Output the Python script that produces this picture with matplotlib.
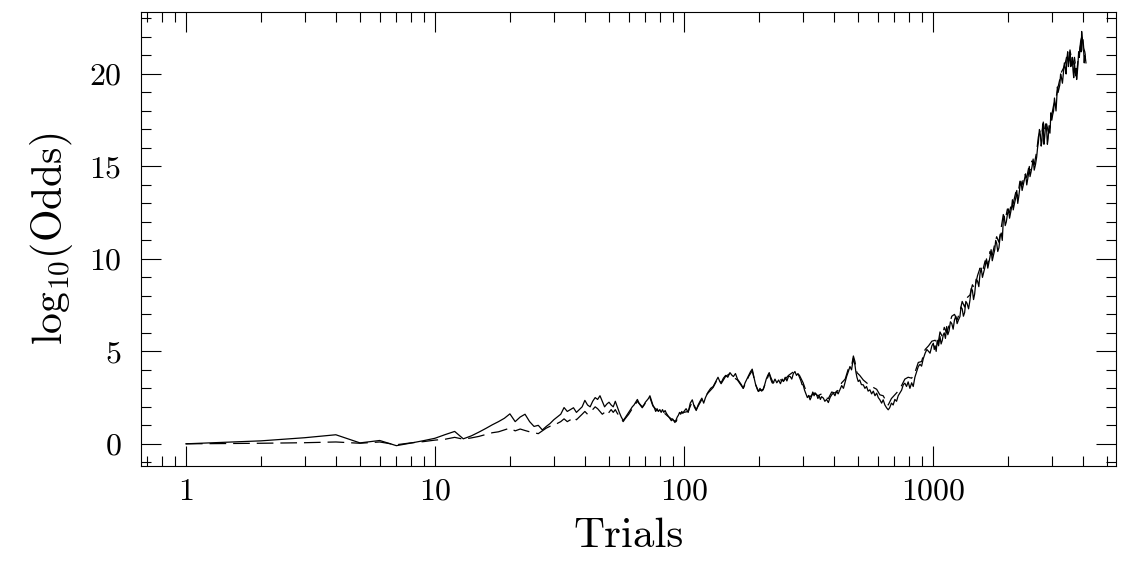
import numpy as np
import matplotlib
matplotlib.use("Agg")
import matplotlib.pyplot as plt
from matplotlib.ticker import LogLocator, FixedLocator, MultipleLocator, NullFormatter

plt.rcParams['font.family'] = ['cmr10', 'DejaVu Sans']
plt.rcParams['mathtext.fontset'] = 'cm'
plt.rcParams['axes.formatter.use_mathtext'] = True
plt.rcParams['lines.scale_dashes'] = False

# solid curve: trial number and log10 odds
trials_a = [1, 2, 3, 4, 5, 6, 7, 8, 9, 10, 11, 12, 13, 14, 15, 16, 17, 18, 19, 20,
            21, 22, 23, 24, 25, 26, 27, 28, 29, 30, 31, 32, 33, 34, 35, 36, 37, 38, 39, 40,
            41, 42, 43, 44, 45, 46, 47, 48, 49, 50, 51, 52, 53, 54, 55, 56, 57, 58, 59, 60,
            61, 62, 63, 64, 65, 66, 67, 68, 69, 70, 71, 72, 73, 74, 75, 76, 77, 78, 79, 80,
            81, 82, 83, 84, 85, 86, 87, 88, 89, 90, 91, 92, 93, 94, 95, 96, 97, 98, 99, 100,
            102, 104, 106, 108, 110, 112, 114, 116, 118, 120, 122, 125, 128, 131, 134, 137, 139,
            141, 144, 147, 150, 153, 156, 158, 161, 164, 167, 170, 173, 176, 179, 182, 185, 188,
            191, 194, 197, 199, 202, 205, 208, 211, 214, 217, 220, 223, 226, 228, 232, 236, 240,
            244, 248, 251, 255, 259, 263, 267, 271, 275, 279, 283, 287, 291, 295, 298, 301, 305,
            309, 313, 317, 321, 325, 329, 333, 337, 341, 345, 349, 353, 357, 363, 368, 374, 380,
            386, 392, 398, 404, 410, 416, 423, 430, 437, 444, 450, 457, 464, 471, 479, 483, 486,
            490, 495, 501, 508, 516, 525, 533, 541, 549, 558, 567, 576, 585, 594, 603, 612, 622,
            631, 641, 651, 661, 670, 681, 692, 703, 714, 725, 736, 748, 760, 771, 783, 795, 808,
            821, 833, 846, 860, 873, 887, 900, 914, 930, 945, 960, 973, 990,
            1003, 1012, 1020, 1030, 1040, 1053, 1067, 1078, 1090, 1100, 1110, 1122, 1135, 1147,
            1160, 1175, 1190, 1205, 1220, 1235, 1250, 1266, 1283, 1296, 1310, 1325, 1340, 1355,
            1370, 1390, 1408, 1425, 1440, 1455, 1470, 1490, 1510, 1528, 1545, 1562, 1580, 1600,
            1620, 1640, 1660, 1677, 1694, 1712, 1730, 1750, 1770, 1786, 1802, 1820, 1840, 1860,
            1880, 1898, 1916, 1933, 1950, 1970, 1990, 2010, 2030, 2050, 2070, 2085, 2100, 2125,
            2150, 2170, 2190, 2212, 2234, 2257, 2280, 2305, 2330, 2355, 2380, 2400, 2420, 2437,
            2453, 2476, 2500, 2525, 2550, 2580, 2608, 2630, 2650, 2675, 2700, 2720, 2740, 2757,
            2773, 2790, 2810, 2835, 2860, 2880, 2900, 2925, 2950, 2975, 3000, 3025, 3050, 3075,
            3100, 3120, 3139, 3160, 3180, 3205, 3230, 3255, 3280, 3310, 3337, 3370, 3400, 3425,
            3450, 3475, 3500, 3525, 3550, 3575, 3600, 3625, 3650, 3675, 3700, 3720, 3740, 3758,
            3775, 3800, 3820, 3845, 3870, 3895, 3920, 3940, 3954, 3970, 3990, 4010, 4030, 4050,
            4070, 4090, 4115]
odds_a = [0.0, 0.16, 0.33, 0.49, 0.05, 0.18, -0.1, 0.04, 0.17, 0.3, 0.5, 0.67, 0.27, 0.43, 0.63, 0.83, 1.03, 1.2, 1.38, 1.62,
          1.2, 1.45, 1.6, 1.2, 0.94, 1.0, 0.75, 0.94, 1.1, 1.3, 1.45, 1.6, 1.96, 1.75, 1.85, 1.95, 1.7, 1.85, 2.0, 2.35,
          2.1, 2.0, 2.3, 2.5, 2.4, 2.6, 2.3, 2.0, 2.15, 2.25, 2.1, 2.0, 2.3, 2.0, 1.7, 1.45, 1.26, 1.4, 1.55, 1.7,
          1.85, 2.0, 2.1, 2.25, 2.4, 2.2, 2.1, 2.0, 2.1, 2.25, 2.35, 2.45, 2.6, 2.35, 2.1, 1.95, 1.75, 1.9, 1.75, 1.85,
          1.7, 1.85, 1.7, 1.8, 1.65, 1.55, 1.45, 1.35, 1.25, 1.35, 1.25, 1.15, 1.3, 1.45, 1.55, 1.7, 1.6, 1.75, 1.65, 1.75,
          1.9, 1.7, 2.2, 2.38, 2.0, 1.8, 2.1, 2.3, 2.47, 2.2, 2.5, 2.8, 3.0, 3.1, 3.35, 3.6, 3.4,
          3.3, 3.55, 3.7, 3.6, 3.85, 3.7, 3.64, 3.8, 3.5, 3.35, 3.2, 3.0, 3.3, 3.5, 3.7, 3.9, 4.04,
          3.6, 3.2, 2.95, 2.83, 3.0, 2.85, 2.92, 3.2, 3.5, 3.7, 3.85, 3.5, 3.3, 3.28, 3.5, 3.3, 3.45,
          3.25, 3.5, 3.37, 3.6, 3.4, 3.65, 3.64, 3.5, 3.8, 3.91, 3.7, 3.8, 3.6, 3.4, 3.2, 3.19, 2.9,
          2.7, 2.5, 2.6, 2.38, 2.55, 2.8, 2.6, 2.75, 2.65, 2.45, 2.6, 2.4, 2.55, 2.47, 2.3, 2.4, 2.23,
          2.5, 2.65, 2.74, 2.6, 2.85, 2.7, 2.92, 3.15, 3.0, 3.35, 3.64, 3.9, 4.18, 4.0, 4.63, 4.4, 4.27,
          3.9, 3.6, 3.37, 3.45, 3.2, 3.19, 3.0, 3.1, 2.85, 2.92, 2.7, 2.85, 2.6, 2.74, 2.5, 2.38, 2.2,
          2.38, 2.1, 1.95, 1.84, 1.95, 2.2, 2.1, 2.4, 2.3, 2.6, 2.74, 2.9, 3.2, 3.28, 3.1, 3.35, 3.0,
          3.3, 3.1, 3.6, 3.9, 4.18, 4.3, 4.2, 4.6, 4.9, 5.1, 5.0, 4.9, 5.3,
          5.44, 5.1, 5.3, 5.0, 5.6, 5.3, 5.8, 5.4, 5.6, 5.9, 6.0, 5.7, 6.34, 5.9,
          6.1, 6.6, 6.5, 6.2, 6.7, 6.9, 6.5, 6.7, 6.88, 7.4, 7.3, 6.9, 7.1, 7.7,
          7.6, 7.3, 7.78, 8.4, 8.3, 7.8, 8.1, 8.9, 8.8, 8.5, 9.2, 9.5, 9.0, 9.3,
          9.6, 10.0, 9.5, 9.8, 10.1, 10.5, 9.9, 10.2, 10.5, 11.0, 10.85, 10.4, 10.6, 11.2,
          11.4, 11.0, 12.1, 12.3, 11.8, 12.0, 12.4, 12.7, 12.2, 12.5, 12.8, 13.2, 12.65, 13.0,
          13.3, 13.7, 13.0, 13.4, 13.9, 14.2, 13.7, 14.0, 14.3, 14.6, 14.0, 14.3, 14.6, 15.0,
          14.45, 14.7, 15.0, 15.4, 14.8, 15.1, 15.5, 16.0, 16.3, 17.0, 16.7, 16.1, 16.4, 17.3,
          17.15, 16.2, 16.6, 17.3, 17.0, 16.2, 16.5, 17.2, 16.8, 17.9, 17.5, 17.8, 18.0, 18.7,
          18.3, 18.0, 18.6, 19.3, 19.0, 19.2, 19.4, 20.0, 19.8, 19.5, 20.0, 20.6, 20.3, 20.0,
          20.8, 21.2, 20.4, 20.8, 21.1, 20.4, 20.5, 20.9, 20.2, 19.8, 20.6, 20.2, 19.9, 20.3,
          19.7, 20.1, 20.5, 21.2, 20.9, 21.4, 21.6, 21.2, 22.3, 22.0, 21.8, 21.3, 21.2, 20.6,
          21.0, 20.9, 20.6]

# dashed curve
trials_b = [1, 2, 3, 4, 5, 6, 7, 8, 9, 10, 11, 12, 13, 14, 15, 16, 17, 18, 19, 20,
            21, 22, 23, 24, 25, 26, 27, 28, 29, 30, 31, 32, 33, 34, 35, 36, 37, 38, 39, 40,
            41, 42, 43, 44, 45, 46, 47, 48, 49, 50, 51, 52, 53, 54, 55, 56, 57,
            58, 60, 62, 65, 68, 70, 73, 75, 78, 82, 86, 90, 93, 96, 100, 104, 108, 112, 118,
            125, 131, 137, 141, 147, 153, 158, 164, 173, 182, 188, 194, 199, 208, 220, 228, 240,
            251, 263, 279, 291, 301, 313, 321, 333, 345, 357, 368, 380, 392, 404, 416, 430, 444,
            457, 471, 479, 486, 495, 508, 525, 541, 558, 576, 594, 612, 631, 651, 661, 681, 703,
            725, 748, 771, 795, 821, 846, 873, 900, 930, 960, 990,
            1020, 1045, 1067, 1090, 1110, 1135, 1160, 1190, 1220, 1250, 1283, 1310, 1340, 1370,
            1408, 1440, 1470, 1510, 1545, 1580, 1620, 1660, 1694, 1730, 1770, 1802, 1840, 1880,
            1916, 1950, 1990, 2030, 2070, 2100, 2150, 2190, 2234, 2280, 2330, 2380, 2420, 2453,
            2500, 2550, 2608, 2650, 2700, 2740, 2773, 2810, 2860, 2900, 2950, 3000, 3050, 3100,
            3139, 3180, 3230, 3280, 3337, 3400, 3450, 3500, 3550, 3600, 3650, 3700, 3775, 3820,
            3870, 3920, 3954, 3990, 4030, 4070, 4115]
odds_b = [0.0, 0.03, 0.06, 0.1, 0.03, 0.1, -0.05, 0.05, 0.12, 0.2, 0.25, 0.35, 0.25, 0.32, 0.4, 0.5, 0.6, 0.65, 0.75, 0.85,
          0.7, 0.8, 0.72, 0.65, 0.6, 0.55, 0.7, 0.85, 0.95, 1.0, 1.1, 1.2, 1.35, 1.2, 1.3, 1.45, 1.3, 1.45, 1.6, 1.75,
          1.6, 1.7, 1.85, 2.0, 1.9, 1.75, 1.6, 1.7, 1.55, 1.7, 1.85, 1.7, 1.85, 1.65, 1.5, 1.35, 1.2,
          1.35, 1.6, 1.9, 2.3, 1.95, 2.2, 2.5, 2.05, 1.8, 1.75, 1.5, 1.3, 1.2, 1.65, 1.7, 1.75, 2.3, 1.85, 2.4,
          2.75, 3.05, 3.55, 3.25, 3.65, 3.8, 3.6, 3.45, 3.0, 3.65, 3.95, 3.2, 2.85, 2.95, 3.8, 3.3, 3.5,
          3.4, 3.7, 3.95, 3.7, 3.3, 2.65, 2.55, 2.75, 2.6, 2.7, 2.5, 2.45, 2.8, 2.75, 2.9, 3.3, 3.5,
          4.05, 4.2, 4.75, 4.45, 3.85, 3.7, 3.45, 3.3, 3.15, 3.05, 2.95, 2.65, 2.6, 2.25, 2.1, 2.45, 2.65,
          2.85, 3.15, 3.5, 3.6, 3.55, 3.85, 4.4, 4.45, 5.1, 5.3, 5.55,
          5.6, 5.3, 6.05, 5.8, 6.3, 6.0, 6.4, 6.9, 7.0, 6.7, 7.15, 7.7, 7.4, 7.9,
          8.05, 8.6, 8.4, 9.1, 9.5, 9.3, 9.9, 9.7, 10.4, 10.2, 10.8, 11.2, 10.9, 11.7,
          12.4, 12.1, 12.7, 12.5, 13.1, 13.0, 13.6, 13.4, 14.2, 14.0, 14.6, 14.4, 14.9, 14.8,
          15.3, 15.1, 15.8, 16.6, 17.0, 16.8, 17.4, 16.9, 17.3, 16.9, 17.1, 17.8, 18.3, 18.6,
          18.9, 19.3, 19.7, 20.1, 20.3, 20.6, 21.0, 20.7, 21.3, 20.8, 20.5, 20.9, 20.0, 20.7,
          21.1, 21.8, 22.0, 22.1, 21.4, 21.2, 20.8]

fig = plt.figure(figsize=(11.27, 5.62), dpi=100)
ax = fig.add_axes([0.1251, 0.1708, 0.8651, 0.8078])

ax.plot(trials_a, odds_a, color='black', lw=0.9)
ax.plot(trials_b, odds_b, color='black', lw=0.9, dashes=(12, 5))

ax.set_xscale('log')
ax.set_xlim(0.66, 5430)
ax.set_ylim(-1.2, 23.35)

ax.xaxis.set_major_locator(FixedLocator([1, 10, 100, 1000]))
ax.set_xticklabels(['1', '10', '100', '1000'])
ax.xaxis.set_minor_locator(LogLocator(base=10, subs=np.arange(2, 10), numticks=20))
ax.xaxis.set_minor_formatter(NullFormatter())
ax.yaxis.set_major_locator(MultipleLocator(5))
ax.yaxis.set_minor_locator(MultipleLocator(1))

ax.tick_params(which='both', direction='in', top=True, right=True, width=0.8, colors='black')
ax.tick_params(which='major', length=14.4, labelsize=23)
ax.tick_params(which='minor', length=7.2)
ax.tick_params(axis='y', which='major', pad=14)
ax.tick_params(axis='x', which='major', pad=9)
for s in ax.spines.values():
    s.set_linewidth(0.8)

ax.set_xlabel('Trials', fontsize=31, labelpad=8)
ax.set_ylabel(r'log$_{10}$(Odds)', fontsize=30, labelpad=10)

fig.savefig('out.png', dpi=100)
